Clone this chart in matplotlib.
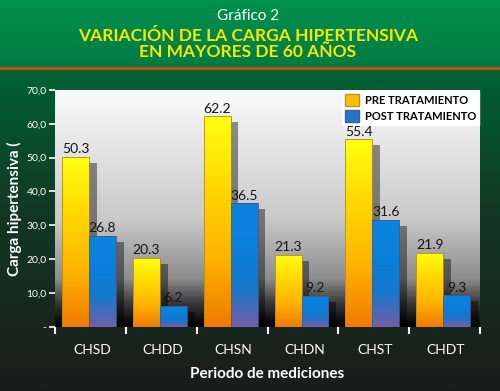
import numpy as np
import matplotlib.pyplot as plt
from matplotlib.colors import LinearSegmentedColormap
from matplotlib.patches import Patch

categories = ["CHSD", "CHDD", "CHSN", "CHDN", "CHST", "CHDT"]
pre = [50.3, 20.3, 62.2, 21.3, 55.4, 21.9]
post = [26.8, 6.2, 36.5, 9.2, 31.6, 9.3]
yticks = [0, 10, 20, 30, 40, 50, 60, 70]
ytick_labels = ["-", "10,0", "20,0", "30,0", "40,0", "50,0", "60,0", "70,0"]

plt.rcParams['font.family'] = ['Lato', 'DejaVu Sans']

fig = plt.figure(figsize=(5, 3.91), dpi=100)

# background of the whole figure
bg = fig.add_axes([0, 0, 1, 1], zorder=-1)
bg_cmap = LinearSegmentedColormap.from_list("bg", [
    (0.0, "#1c1c1c"), (0.45, "#123822"), (0.82, "#006234"),
    (0.825, "#007a42"), (1.0, "#00914f")])
bg.imshow(np.linspace(1, 0, 400).reshape(-1, 1), cmap=bg_cmap, aspect='auto',
          extent=[0, 1, 0, 1], vmin=0, vmax=1)
bg.axhline(1 - 68 / 391, color="#e8441a", lw=1.8)
bg.set_xlim(0, 1)
bg.set_ylim(0, 1)
bg.axis('off')

ax = fig.add_axes([0.11, 0.164, 0.85, 0.606])
ax.patch.set_alpha(0)

# plot-area gradient
plot_cmap = LinearSegmentedColormap.from_list("pl", [
    (0.0, "#000000"), (0.1, "#3a3a3a"), (0.2, "#8c8c8c"),
    (0.45, "#c8c8c8"), (1.0, "#fbfbfb")])
ax.imshow(np.linspace(1, 0, 300).reshape(-1, 1), cmap=plot_cmap, aspect='auto',
          extent=[0, 6, 0, 70], vmin=0, vmax=1, zorder=0)

pre_cmap = LinearSegmentedColormap.from_list("pre", ["#f07a00", "#ffb400", "#ffd800", "#ffff10"])
post_cmap = LinearSegmentedColormap.from_list("post", ["#7060a8", "#1478cc", "#0a80dc", "#0a84e0"])

x = np.arange(len(categories))
w = 0.38
x_pre = x + 0.29
x_post = x + 0.67
dx, dy = 0.11, 1.8

# shadows
ax.bar(x_pre + dx, np.array(pre) - dy, w, color="black", alpha=0.42, zorder=1, lw=0)
ax.bar(x_post + dx, np.array(post) - dy, w, color="black", alpha=0.42, zorder=1, lw=0)

grad = np.linspace(0, 1, 200).reshape(-1, 1)
for xs, vals, cmap in [(x_pre, pre, pre_cmap), (x_post, post, post_cmap)]:
    bars = ax.bar(xs, vals, w, color="none", edgecolor="#b08a20" if cmap is pre_cmap else "#3a5a90",
                  lw=0.6, zorder=3)
    for b in bars:
        x0, y0 = b.get_x(), b.get_y()
        im = ax.imshow(grad, cmap=cmap, aspect='auto', origin='lower',
                       extent=[x0, x0 + b.get_width(), y0, y0 + b.get_height()], zorder=2)
        im.set_clip_path(b)
    for xi, v in zip(xs, vals):
        ax.text(xi, v + 0.5, f"{v}", ha='center', va='bottom', fontsize=10,
                color="#151515", zorder=6)

ax.set_xlim(0, 6)
ax.set_ylim(0, 70)
for s in ax.spines.values():
    s.set_visible(False)

ax.set_yticks(yticks)
ax.set_yticklabels(ytick_labels)
ax.tick_params(axis='y', colors='white', labelsize=7.5, length=4, width=1.2, pad=2)

ax.set_xticks(np.arange(0, 7))
ax.set_xticklabels([])
ax.set_xticks(x + 0.52, minor=True)
ax.set_xticklabels(categories, minor=True)
ax.tick_params(axis='x', which='major', colors='white', length=5, width=1.5, direction='out')
ax.tick_params(axis='x', which='minor', length=0, labelcolor='white', labelsize=10, pad=12)

ax.set_ylabel("Carga hipertensiva (", color='white', fontsize=11, fontweight='bold', labelpad=3)
ax.set_xlabel("Periodo de mediciones", color='white', fontsize=11, fontweight='bold', labelpad=8)

handles = [Patch(facecolor="#ffc000", edgecolor="#c09020", label="PRE TRATAMIENTO"),
           Patch(facecolor="#1e78d0", edgecolor="#4a5a98", label="POST TRATAMIENTO")]
leg = ax.legend(handles=handles, loc='upper right', frameon=True, fancybox=False,
                facecolor='white', edgecolor='white', framealpha=1,
                prop={'weight': 'bold', 'size': 8}, handlelength=1.3, handleheight=1.3,
                borderaxespad=0.1, borderpad=0.25, labelspacing=0.35, handletextpad=0.5)
leg.set_zorder(5)

fig.text(0.496, 1 - 16 / 391, "Gráfico 2", color='white', fontsize=11, ha='center', va='center')
fig.text(0.496, 1 - 36 / 391, "VARIACIÓN DE LA CARGA HIPERTENSIVA", color='#f8e800',
         fontsize=12.5, fontweight='bold', ha='center', va='center')
fig.text(0.496, 1 - 52 / 391, "EN MAYORES DE 60 AÑOS", color='#f8e800',
         fontsize=12.5, fontweight='bold', ha='center', va='center')

fig.savefig("out.png", dpi=100)
